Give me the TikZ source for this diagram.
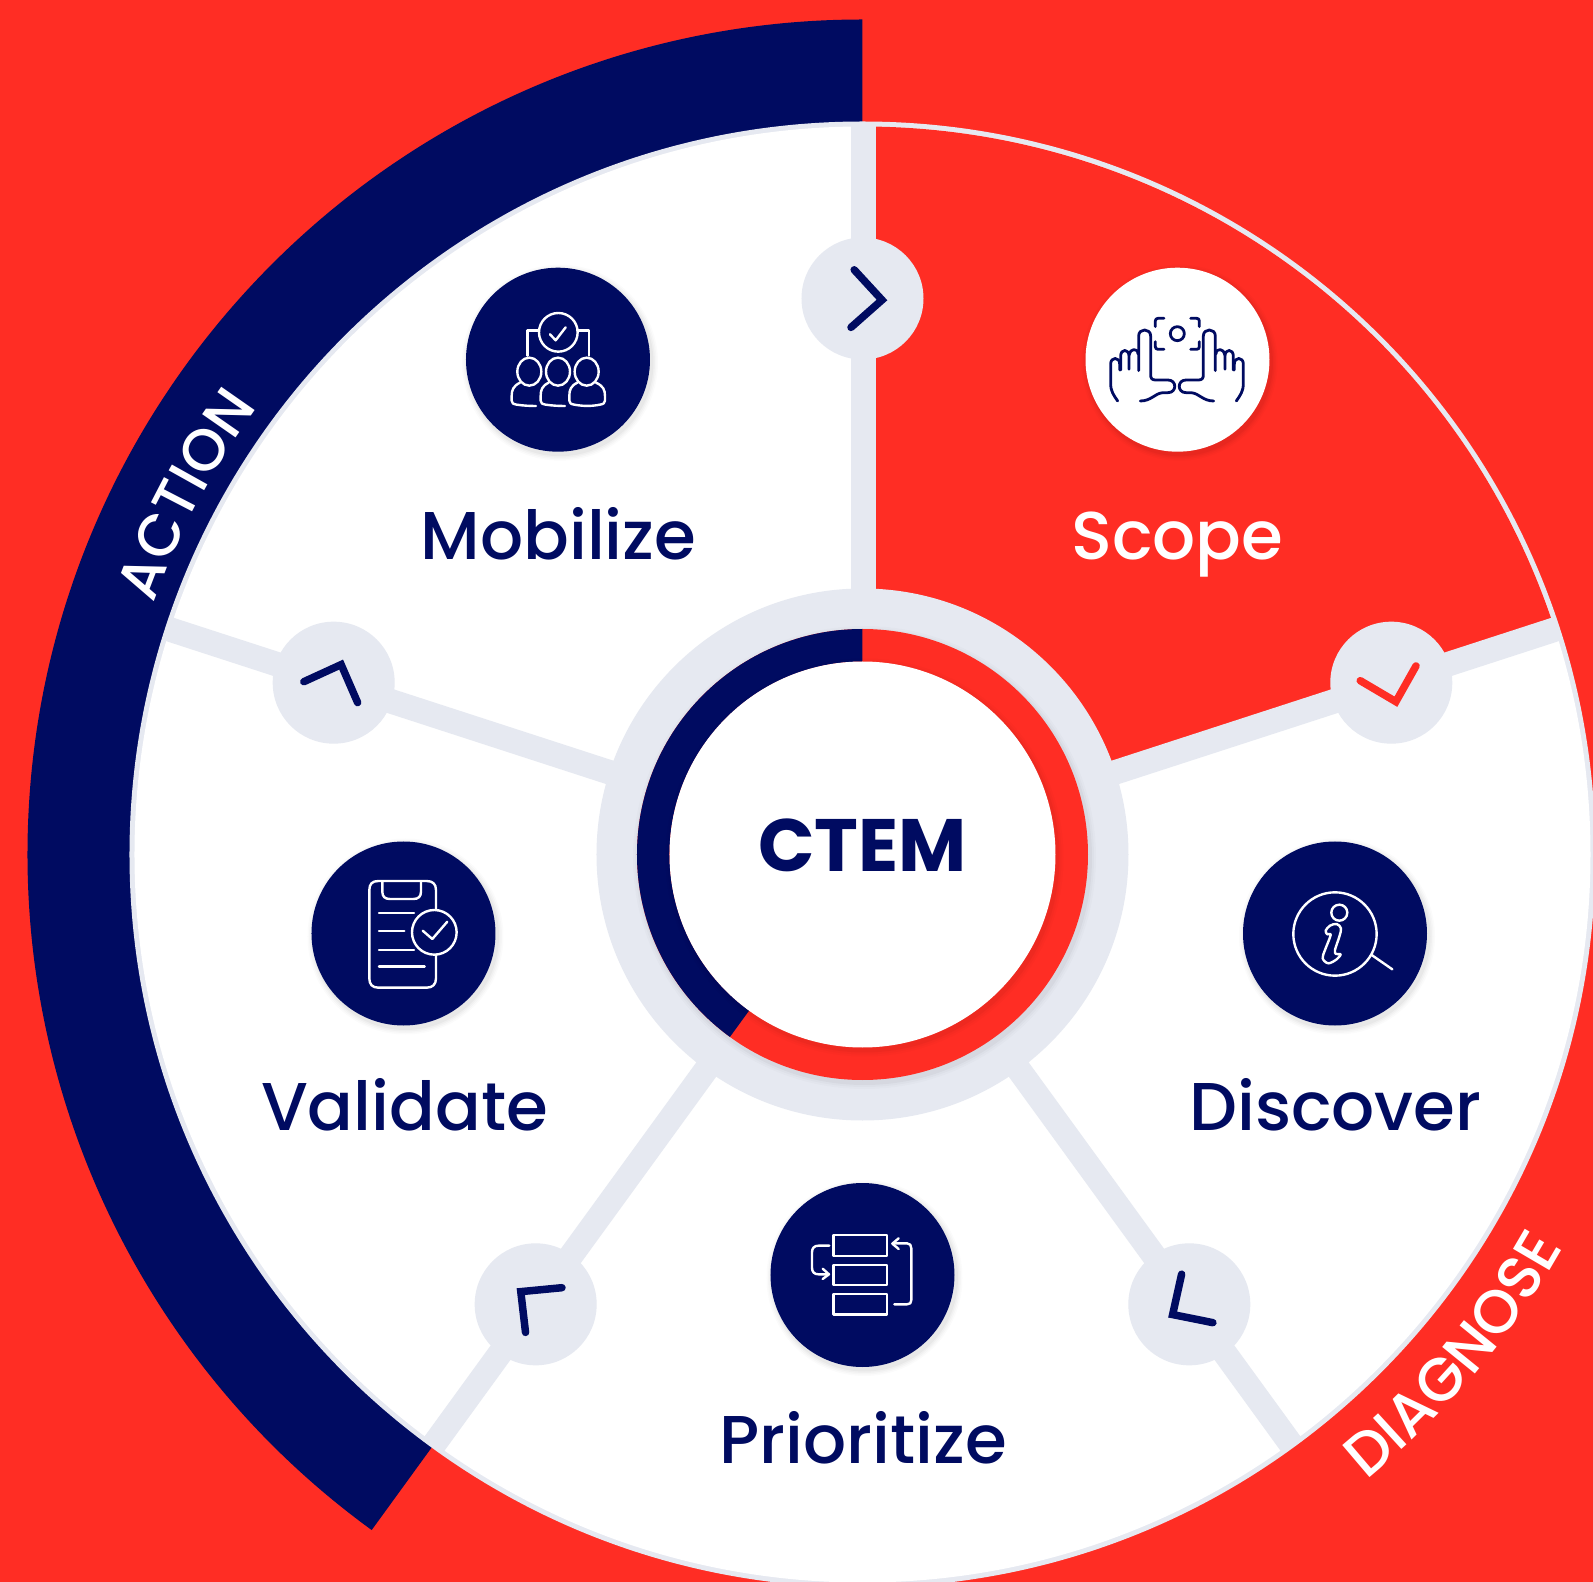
\documentclass[tikz,border=0pt]{standalone}
\usepackage{fontspec}
\setmainfont{Poppins}
\usetikzlibrary{decorations.text,calc}
\definecolor{brandred}{HTML}{FF2D24}
\definecolor{brandnavy}{HTML}{000B61}
\definecolor{spoke}{HTML}{E6E9F1}
\newfontfamily\popmed{Poppins Medium}
\newfontfamily\popbold{Poppins Bold}
\newcommand{\softshadow}[2]{%
  \foreach \d/\o in {6/0.015,4.5/0.02,3/0.025,1.5/0.03}{\fill[black,opacity=\o] ($(#1)+(2,-3)$) circle ({#2+\d});}}
\tikzset{
  x=1pt,y=1pt,
  spokeline/.style={draw=spoke,line width=24.5pt},
  hub/.style={circle,fill=spoke,minimum size=122pt,inner sep=0pt,outer sep=0pt},
  chev/.style={draw=#1,line width=7.5pt,line cap=round,line join=miter,miter limit=10},
  badge/.style={circle,fill=#1,minimum size=184pt,inner sep=0pt,outer sep=0pt},
  phase/.style={font=\popmed\fontsize{67.6}{67.6}\selectfont,text=brandnavy,inner sep=0pt,anchor=base},
  iconw/.style={draw=white,line width=2.4pt,line cap=round,line join=round},
  iconn/.style={draw=brandnavy,line width=2.8pt,line cap=round,line join=round},
  zoomframe/.style={shift={(#1)},x=0.33333pt,y=-0.33333pt},
}
\begin{document}
\begin{tikzpicture}
\useasboundingbox (-862.5,-727.5) rectangle (730.5,854.5);
\clip (-862.5,-727.5) rectangle (730.5,854.5);
\fill[brandred] (-862.5,-727.5) rectangle (730.5,854.5);
% navy band
\fill[brandnavy] (90:835) arc[start angle=90,end angle=234,radius=835] -- (234:730) arc[start angle=234,end angle=90,radius=730] -- cycle;
% main disc
\fill[spoke] (0,0) circle (733);
\fill[white] (0,0) circle (728);
\fill[brandred] (0,0) -- (90:728) arc[start angle=90,end angle=18,radius=728] -- cycle;
% spoke ends
\coordinate (c) at (0,0);
\coordinate (c1) at (1,0);
\coordinate (s1) at (1,731);
\foreach \n/\a in {s2/18,s3/306,s4/234,s5/162}{\coordinate (\n) at (\a:731);}
\draw[spokeline] (c1) -- (s1);
\foreach \n in {s2,s3,s4,s5}{\draw[spokeline] (c) -- (\n);}
% hubs
\node[hub] (h1) at (90:556) {};
\node[hub] (h2) at (18:556) {};
\node[hub] (h3) at (306:556) {};
\node[hub] (h4) at (234:556) {};
\node[hub] (h5) at (162:556) {};
\foreach \n/\a/\col in {h1/0/brandnavy,h2/-72/brandred,h3/-144/brandnavy,h4/-216/brandnavy,h5/-288/brandnavy}{
  \draw[chev=\col,shift={(\n)},rotate=\a] (-8.3,28.7) -- (19.5,-1.5) -- (-11.5,-28.9);
}
% centre
\fill[spoke] (c) circle (266);
\foreach \d/\o in {6/0.015,4/0.02,2/0.03}{\fill[black,opacity=\o] (2,-3) circle ({225.5+\d});}
\fill[brandred] (c) circle (225.5);
\fill[brandnavy] (90:225.5) arc[start angle=90,end angle=234,radius=225.5] -- (234:193) arc[start angle=234,end angle=90,radius=193] -- cycle;
\foreach \d/\o in {6/0.015,4/0.02,2/0.03}{\fill[black,opacity=\o] (2,-3) circle ({193+\d});}
\fill[white] (c) circle (193);
\node[inner sep=0pt,text=brandnavy,font=\popbold\fontsize{74.2}{74.2}\selectfont] (ctem) at (0,9) {CTEM};
% badges
\coordinate (bm) at (-304.5,494.8);
\coordinate (bs) at (315,494.8);
\coordinate (bd) at (472.5,-79);
\coordinate (bp) at (0,-420.5);
\coordinate (bv) at (-459,-79);
\foreach \p in {bm,bd,bp,bv}{\softshadow{\p}{92}}
\softshadow{bs}{92}
\node[badge=brandnavy] (nm) at (bm) {};
\node[badge=white] (ns) at (bs) {};
\node[badge=brandnavy] (nd) at (bd) {};
\node[badge=brandnavy] (np) at (bp) {};
\node[badge=brandnavy] (nv) at (bv) {};
% labels
\node[phase] (lm) at (-304,294.7) {Mobilize};
\node[phase,text=white] (ls) at (315,294.7) {Scope};
\node[phase] (ld) at (473,-276.3) {Discover};
\node[phase] (lp) at (1,-608.5) {Prioritize};
\node[phase] (lv) at (-458,-276.3) {Validate};
% Mobilize icon
\begin{scope}[zoomframe={470-862.5,854.5-270}]
\draw[iconw] (265,187) circle[radius=58];
\draw[iconw] (240,193) -- (257,211) -- (287,172);
\draw[iconw] (172,257) -- (172,182) -- (205,182);
\draw[iconw] (322,182) -- (357,182) -- (357,257);
\foreach \x in {178,264,350}{\draw[iconw] (\x,305) circle[x radius=36,y radius=42];}
\draw[iconw] (150,338) .. controls (130,348) and (125,360) .. (125,378) -- (125,392) .. controls (125,400) and (130,402) .. (140,404) .. controls (160,407) and (180,408) .. (198,408);
\draw[iconw] (236,338) .. controls (216,348) and (212,360) .. (212,378) -- (212,392) .. controls (212,400) and (217,402) .. (227,404) .. controls (247,407) and (267,408) .. (285,408);
\draw[iconw] (322,338) .. controls (302,348) and (298,360) .. (298,378) -- (298,392) .. controls (298,400) and (303,402) .. (313,404) .. controls (340,409) and (365,409) .. (390,404) .. controls (400,402) and (405,400) .. (405,392) -- (405,378) .. controls (405,360) and (400,348) .. (378,338);
\end{scope}
% Scope icon
\begin{scope}[zoomframe={1083-862.5,854.5-270}]
\draw[iconn] (283,191) circle[radius=21];
\draw[iconn] (217,170) -- (217,153) .. controls (217,148) and (220,145) .. (225,145) -- (243,145);
\draw[iconn] (323,145) -- (341,145) .. controls (346,145) and (349,148) .. (349,153) -- (349,170);
\draw[iconn] (217,215) -- (217,230) .. controls (217,235) and (220,238) .. (225,238) -- (243,238);
\draw[iconn] (323,238) -- (341,238) .. controls (346,238) and (349,235) .. (349,230) -- (349,215);
\foreach \m in {0,1}{
\begin{scope}[shift={(\m*564,0)},xscale={1-2*\m}]
\draw[iconn] (104,393) .. controls (92,375) and (83,365) .. (83,340) -- (83,282) .. controls (83,260) and (110,260) .. (110,282) -- (110,300);
\draw[iconn] (113,300) -- (113,258) .. controls (113,236) and (138,236) .. (138,258) -- (138,298);
\draw[iconn] (138,255) .. controls (140,236) and (165,232) .. (165,252);
\draw[iconn] (167,302) -- (167,198) .. controls (167,174) and (203,174) .. (203,198) -- (203,315) .. controls (203,325) and (207,330) .. (217,330) -- (255,330) .. controls (282,330) and (282,368) .. (255,368) -- (240,368) .. controls (215,370) and (205,393) .. (172,393);
\end{scope}}
\end{scope}
% Discover icon
\begin{scope}[zoomframe={1240-862.5,854.5-840}]
\draw[iconw] (285,282) circle[radius=125];
\draw[iconw] (395,345) -- (457,388);
\draw[iconw] (298,218) circle[radius=24];
\draw[iconw] plot[smooth cycle,tension=0.55] coordinates {(257,272) (270,257) (290,252) (303,265) (298,290) (285,330) (288,342) (302,343) (290,358) (265,370) (248,355) (255,330) (272,285) (262,283)};
\end{scope}
% Prioritize icon
\begin{scope}[zoomframe={767-862.5,854.5-1180}]
\draw[iconw] (200,165) rectangle (360,228);
\draw[iconw] (200,255) rectangle (360,315);
\draw[iconw] (200,342) rectangle (360,403);
\draw[iconw] (187,197) -- (155,197) .. controls (142,197) and (135,204) .. (135,217) -- (135,263) .. controls (135,276) and (142,283) .. (155,283) -- (185,283);
\draw[iconw] (167,266) -- (186,283) -- (167,297);
\draw[iconw] (382,373) -- (420,373) .. controls (429,373) and (433,369) .. (433,360) -- (433,205) .. controls (433,196) and (429,190) .. (420,190) -- (378,190);
\draw[iconw] (395,175) -- (376,191) -- (395,207);
\end{scope}
% Validate icon
\begin{scope}[zoomframe={310-862.5,854.5-840}]
\draw[iconw] (378,210) -- (378,150) .. controls (378,132) and (368,123) .. (350,123) -- (205,123) .. controls (187,123) and (178,132) .. (178,150) -- (178,415) .. controls (178,433) and (187,443) .. (205,443) -- (350,443) .. controls (368,443) and (378,433) .. (378,415) -- (378,345);
\draw[iconw] (217,125) -- (217,155) .. controls (217,170) and (225,177) .. (240,177) -- (310,177) .. controls (325,177) and (333,170) .. (333,155) -- (333,125);
\draw[iconw] (207,219) -- (312,219);
\draw[iconw] (207,273) -- (283,273);
\draw[iconw] (207,330) -- (312,330);
\draw[iconw] (207,379) -- (344,379);
\draw[iconw] (373,277) circle[radius=67];
\draw[iconw] (338,272) -- (367,297) -- (412,245);
\end{scope}
% curved words
\path[decorate,decoration={text along path,text align=center,text={|\popmed\fontsize{58.5}{58.5}\selectfont\color{white}|ACTION}}] (164:752) arc[start angle=164,end angle=140,radius=752];
\path[decorate,decoration={text along path,text align=center,text={|\popmed\fontsize{60.5}{60.5}\selectfont\color{white}|DIAGNOSE}}] (-53.6:803) arc[start angle=-53.6,end angle=-26.8,radius=803];
\end{tikzpicture}
\end{document}
